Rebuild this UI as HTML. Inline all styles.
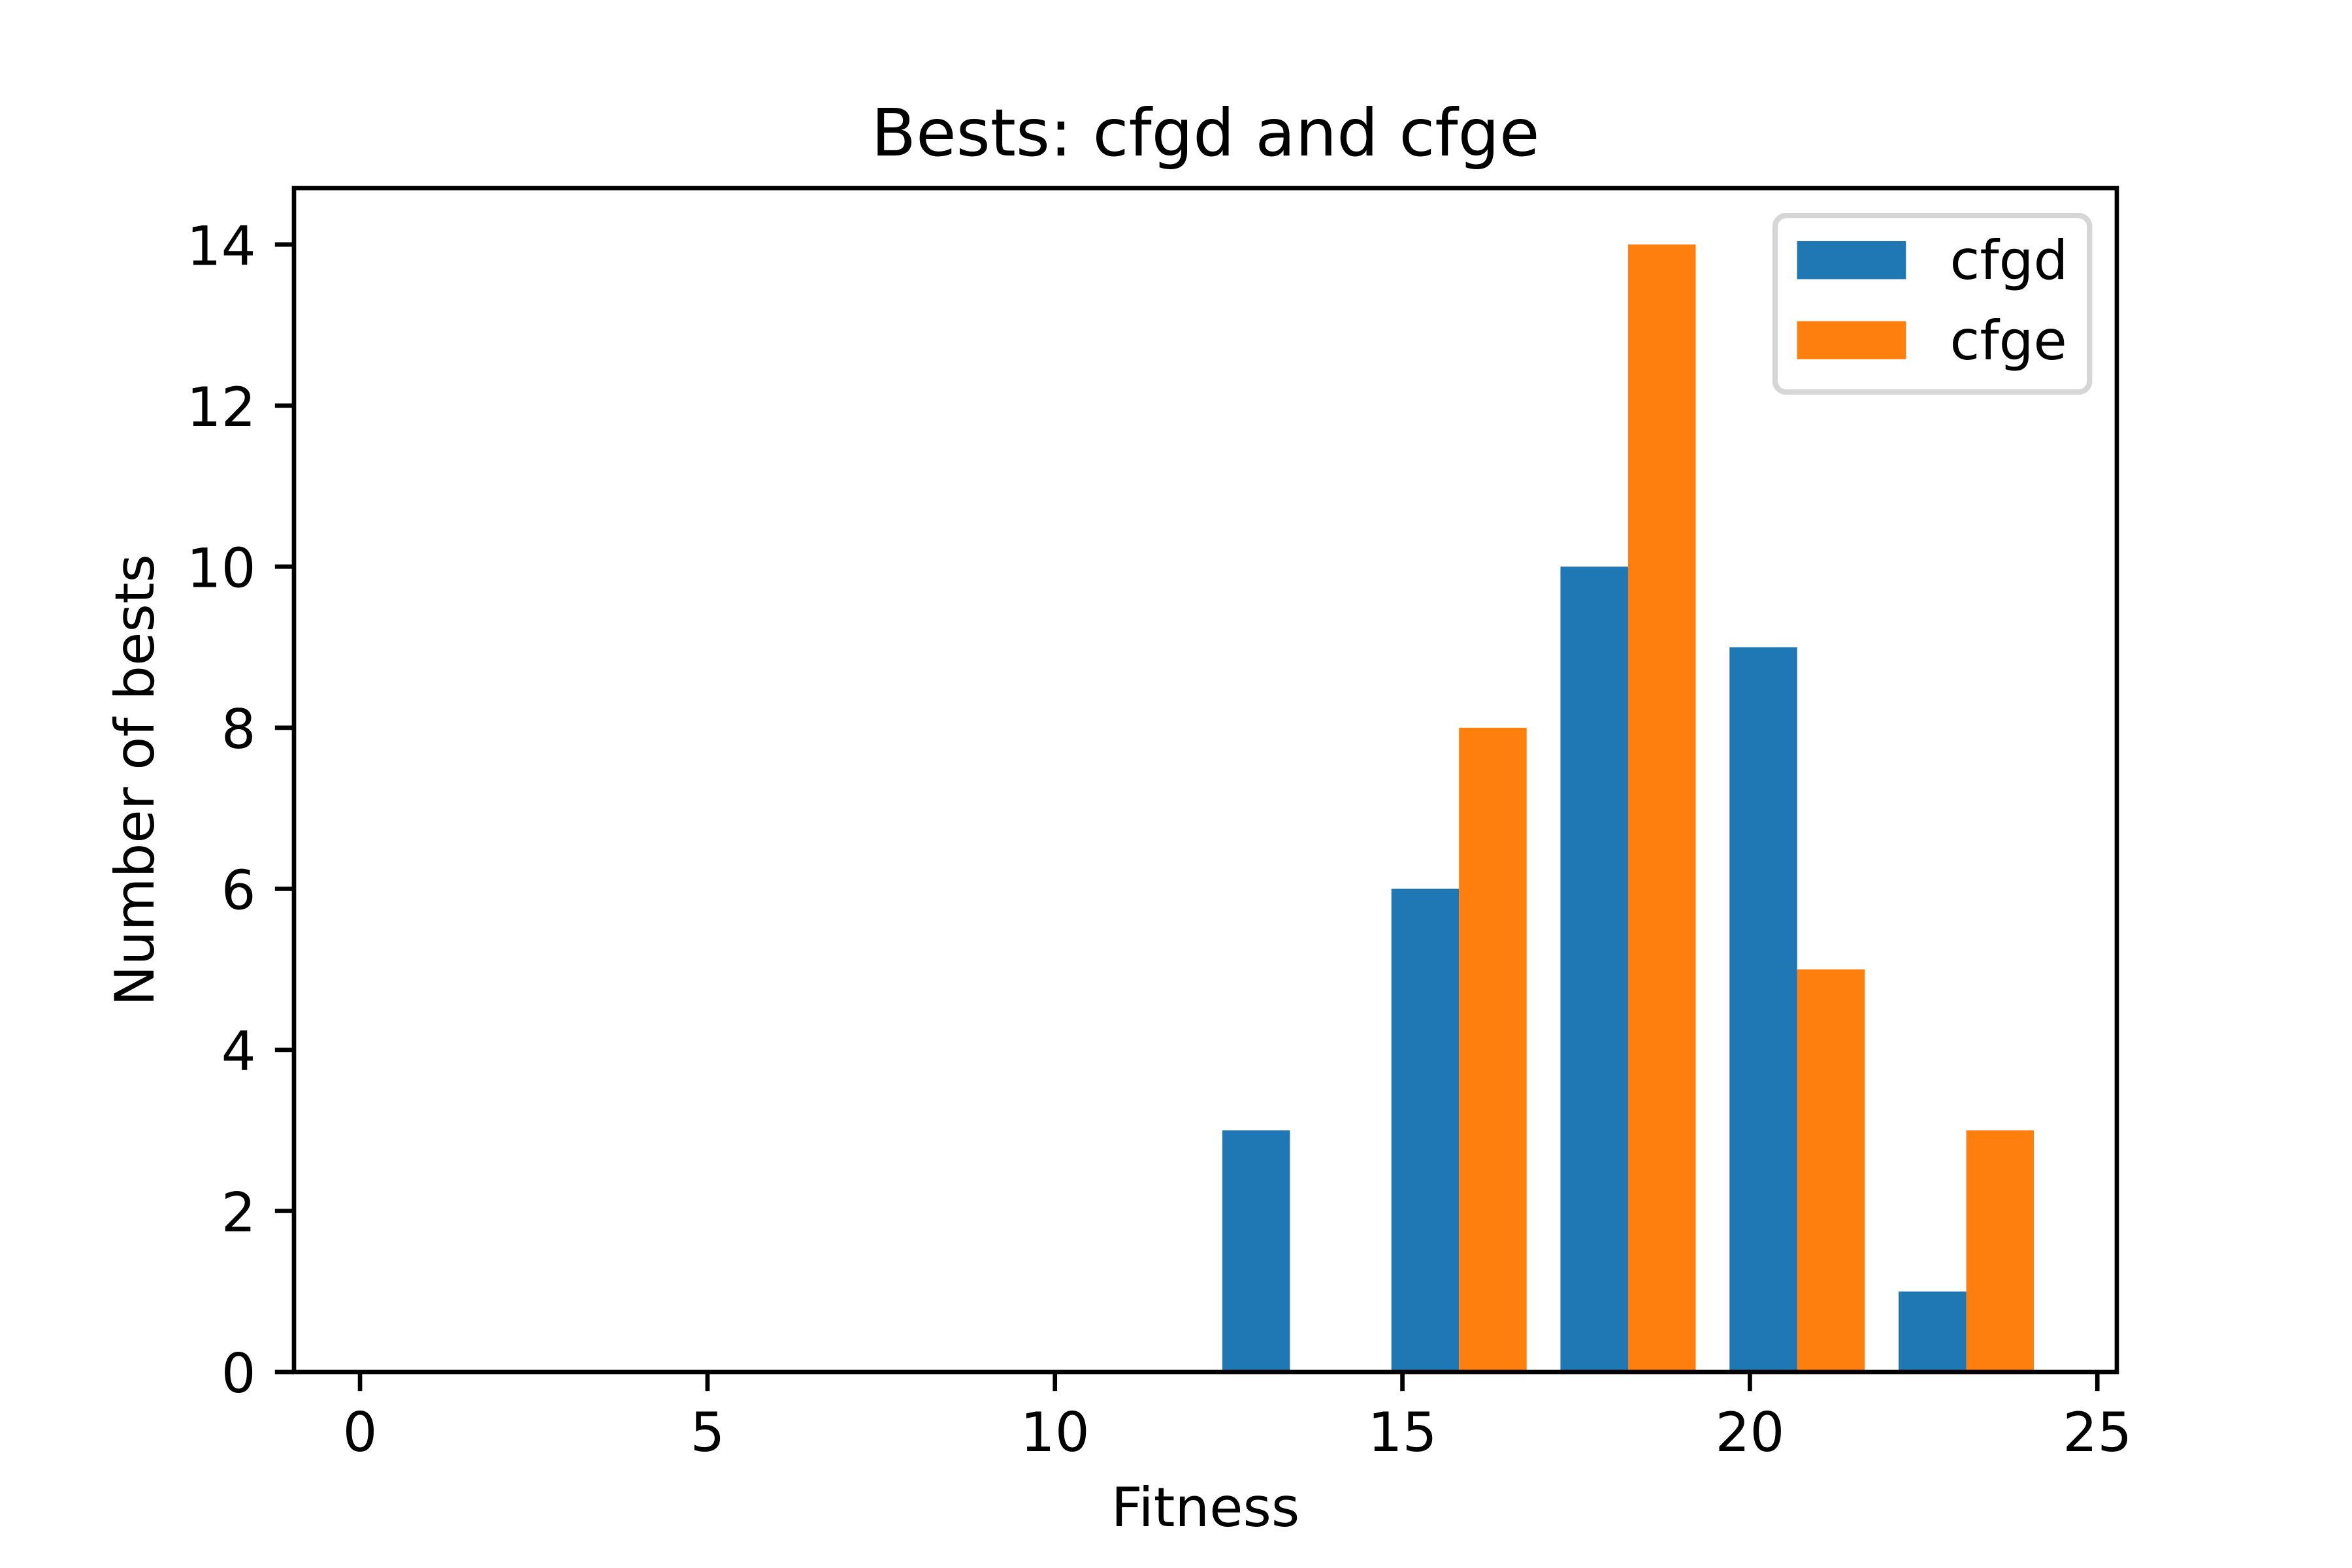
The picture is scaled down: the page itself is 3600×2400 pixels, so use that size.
<!DOCTYPE html>
<html>
<head>
<meta charset="utf-8">
<title>Bests: cfgd and cfge</title>
<style>
html,body{margin:0;padding:0;background:#fff;width:3600px;height:2400px;overflow:hidden}
svg{display:block}
text{font-family:"DejaVu Sans","Liberation Sans",sans-serif;fill:#000}
</style>
</head>
<body>
<svg id="chart" xmlns="http://www.w3.org/2000/svg" width="3600" height="2400" viewBox="0 0 3600 2400">
<rect x="0" y="0" width="3600" height="2400" fill="#fff"/>
<g id="bars"></g>
<g id="x-ticks"></g>
<g id="y-ticks"></g>
<rect x="450" y="288" width="2790" height="1812" fill="none" stroke="#000" stroke-width="6.67" stroke-linejoin="miter"/>
<text x="1845" y="238" font-size="100" text-anchor="middle">Bests: cfgd and cfge</text>
<text x="1845" y="2336" font-size="83.33" text-anchor="middle">Fitness</text>
<text x="0" y="0" font-size="83.33" text-anchor="middle" transform="translate(235 1194) rotate(-90)">Number of bests</text>
<g>
<rect x="2717" y="330" width="481.3" height="270" rx="16.67" ry="16.67" fill="#fff" fill-opacity="0.8" stroke="#ccc" stroke-opacity="0.8" stroke-width="8.33"/>
<rect x="2750.6" y="369" width="166.67" height="58.33" fill="#1f77b4"/>
<text x="2984.5" y="427" font-size="83.33">cfgd</text>
<rect x="2750.6" y="491.5" width="166.67" height="58.33" fill="#ff7f0e"/>
<text x="2984.5" y="550" font-size="83.33">cfge</text>
</g>
</svg>
<script>
const binStarts = [0, 2.433, 4.866, 7.299, 9.732, 12.165, 14.598, 17.031, 19.464, 21.897];
const cfgdCounts = [0, 0, 0, 0, 0, 3, 6, 10, 9, 1];
const cfgeCounts = [0, 0, 0, 0, 0, 0, 8, 14, 5, 3];
const xTickValues = [0, 5, 10, 15, 20, 25];
const xTickLabels = ['0', '5', '10', '15', '20', '25'];
const yTickValues = [0, 2, 4, 6, 8, 10, 12, 14];
const yTickLabels = ['0', '2', '4', '6', '8', '10', '12', '14'];
const binWidth = 2.433;

const NS = 'http://www.w3.org/2000/svg';
const xMin = -0.95, xMax = 25.28, yMin = 0, yMax = 14.7;
const plotLeft = 450, plotRight = 3240, plotTop = 288, plotBottom = 2100;
function xScale(v) { return plotLeft + (v - xMin) / (xMax - xMin) * (plotRight - plotLeft); }
function yScale(v) { return plotBottom - (v - yMin) / (yMax - yMin) * (plotBottom - plotTop); }

const barsGroup = document.getElementById('bars');
function drawSeries(counts, seriesName, color, offset) {
  counts.forEach(function (count, i) {
    const barWidth = binWidth * 0.4;
    const left = binStarts[i] + binWidth * 0.1 + offset * barWidth;
    const rect = document.createElementNS(NS, 'rect');
    
    
    rect.setAttribute('x', xScale(left));
    rect.setAttribute('y', yScale(count));
    rect.setAttribute('width', xScale(left + barWidth) - xScale(left));
    rect.setAttribute('height', yScale(0) - yScale(count));
    rect.setAttribute('fill', color);
    barsGroup.appendChild(rect);
  });
}
drawSeries(cfgdCounts, 'cfgd', '#1f77b4', 0);
drawSeries(cfgeCounts, 'cfge', '#ff7f0e', 1);

const xTicksGroup = document.getElementById('x-ticks');
xTickValues.forEach(function (v, i) {
  const px = xScale(v);
  const line = document.createElementNS(NS, 'line');
  
  
  line.setAttribute('x1', px);
  line.setAttribute('x2', px);
  line.setAttribute('y1', plotBottom);
  line.setAttribute('y2', plotBottom + 29.17);
  line.setAttribute('stroke', '#000');
  line.setAttribute('stroke-width', 6.67);
  xTicksGroup.appendChild(line);
  const label = document.createElementNS(NS, 'text');
  
  
  label.setAttribute('x', px);
  label.setAttribute('y', 2221);
  label.setAttribute('font-size', 83.33);
  label.setAttribute('text-anchor', 'middle');
  label.textContent = xTickLabels[i];
  xTicksGroup.appendChild(label);
});

const yTicksGroup = document.getElementById('y-ticks');
yTickValues.forEach(function (v, i) {
  const py = yScale(v);
  const line = document.createElementNS(NS, 'line');
  
  
  line.setAttribute('x1', plotLeft - 29.17);
  line.setAttribute('x2', plotLeft);
  line.setAttribute('y1', py);
  line.setAttribute('y2', py);
  line.setAttribute('stroke', '#000');
  line.setAttribute('stroke-width', 6.67);
  yTicksGroup.appendChild(line);
  const label = document.createElementNS(NS, 'text');
  
  
  label.setAttribute('x', plotLeft - 58.33);
  label.setAttribute('y', py + 31);
  label.setAttribute('font-size', 83.33);
  label.setAttribute('text-anchor', 'end');
  label.textContent = yTickLabels[i];
  yTicksGroup.appendChild(label);
});
</script>
</body>
</html>
